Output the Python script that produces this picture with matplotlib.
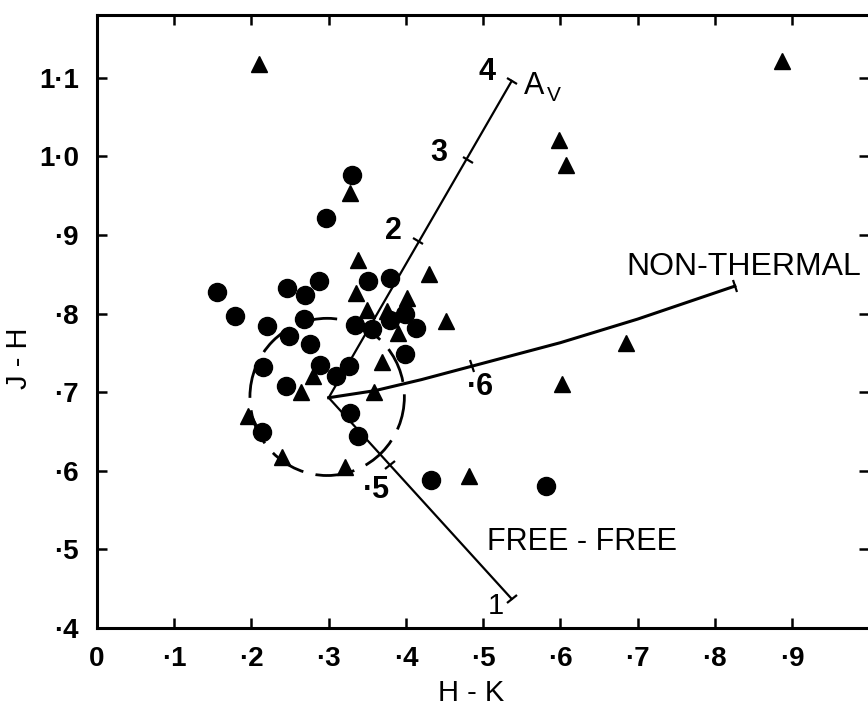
import numpy as np
import matplotlib
matplotlib.use("Agg")
import matplotlib.pyplot as plt
from matplotlib.markers import MarkerStyle
from matplotlib.transforms import Affine2D
from matplotlib.patches import Circle

plt.rcParams['font.family'] = ['Liberation Sans', 'DejaVu Sans']

# sources shown as filled circles (H-K, J-H)
circle_hk = [0.155, 0.179, 0.246, 0.269, 0.287, 0.220, 0.248, 0.268, 0.276, 0.215,
             0.245, 0.289, 0.310, 0.326, 0.334, 0.351, 0.379, 0.399, 0.413, 0.399,
             0.356, 0.379, 0.328, 0.338, 0.213, 0.433, 0.581, 0.330, 0.297]
circle_jh = [0.828, 0.797, 0.833, 0.824, 0.841, 0.784, 0.772, 0.793, 0.761, 0.732,
             0.708, 0.735, 0.720, 0.733, 0.785, 0.841, 0.845, 0.799, 0.782, 0.748,
             0.781, 0.792, 0.674, 0.644, 0.650, 0.588, 0.581, 0.977, 0.922]

# sources shown as filled triangles
tri_hk = [0.210, 0.887, 0.598, 0.607, 0.328, 0.338, 0.430, 0.335, 0.401, 0.349,
          0.452, 0.390, 0.369, 0.280, 0.264, 0.359, 0.196, 0.240, 0.321, 0.482,
          0.602, 0.685, 0.375]
tri_jh = [1.117, 1.121, 1.021, 0.989, 0.954, 0.868, 0.850, 0.826, 0.820, 0.805,
          0.791, 0.775, 0.739, 0.720, 0.700, 0.700, 0.670, 0.617, 0.605, 0.593,
          0.710, 0.763, 0.803]

# reddening vector, A_V = 0 .. 4
av_hk = [0.300, 0.537]
av_jh = [0.693, 1.096]
av_tick_hk = [0.416, 0.480]
av_tick_jh = [0.892, 0.995]

# non-thermal locus
nt_hk = [0.300, 0.360, 0.420, 0.485, 0.600, 0.700, 0.826]
nt_jh = [0.693, 0.702, 0.716, 0.733, 0.763, 0.793, 0.835]

# free-free locus
ff_hk = [0.300, 0.537]
ff_jh = [0.693, 0.437]
ff_tick = (0.379, 0.607)

x_ticks = [0, 0.1, 0.2, 0.3, 0.4, 0.5, 0.6, 0.7, 0.8, 0.9]
x_labels = ['0', '·1', '·2', '·3', '·4', '·5', '·6', '·7', '·8', '·9']
y_ticks = [0.4, 0.5, 0.6, 0.7, 0.8, 0.9, 1.0, 1.1]
y_labels = ['·4', '·5', '·6', '·7', '·8', '·9', '1·0', '1·1']

fig = plt.figure(figsize=(8.68, 7.06), dpi=100)
ax = fig.add_axes([0.1118, 0.1105, 0.8896, 0.8683])
ax.set_xlim(0, 1.0)
ax.set_ylim(0.4, 1.18)


def cap(x, y, x0, y0, size=9):
    # short bar across a line at (x, y); direction taken from (x0, y0)
    p = ax.transData.transform([(x0, y0), (x, y)])
    ang = np.degrees(np.arctan2(p[1, 1] - p[0, 1], p[1, 0] - p[0, 0]))
    m = MarkerStyle('|', transform=Affine2D().rotate_deg(ang))
    ax.plot(x, y, marker=m, ms=size, mew=1.6, color='black', zorder=3)


# loci
ax.plot(av_hk, av_jh, color='black', lw=1.6, zorder=2)
ax.plot(nt_hk, nt_jh, color='black', lw=2.2, zorder=2)
ax.plot(ff_hk, ff_jh, color='black', lw=1.6, zorder=2)

for x, y in zip(av_tick_hk, av_tick_jh):
    cap(x, y, av_hk[0], av_jh[0])
cap(av_hk[1], av_jh[1], av_hk[0], av_jh[0])
cap(nt_hk[3], nt_jh[3], nt_hk[2], nt_jh[2])
cap(nt_hk[-1], nt_jh[-1], nt_hk[-2], nt_jh[-2])
cap(ff_tick[0], ff_tick[1], ff_hk[0], ff_jh[0])
cap(ff_hk[1], ff_jh[1], ff_hk[0], ff_jh[0])

# dashed circle round the origin of the loci
ring = Circle((0.298, 0.694), 0.1, fill=False, ec='black', lw=2.0,
              linestyle=(3, (13, 4.5)), zorder=2)
ax.add_patch(ring)

ax.plot(circle_hk, circle_jh, 'o', color='black', ms=13, zorder=4)
ax.plot(tri_hk, tri_jh, '^', color='black', ms=12, zorder=4)

# labels along the loci
num = dict(fontsize=22, fontweight='bold', ha='center', va='center')
ax.text(0.505, 1.107, '4', **num)
ax.text(0.442, 1.005, '3', **num)
ax.text(0.384, 0.905, '2', **num)
ax.text(0.566, 1.090, 'A', fontsize=22, ha='center', va='center')
ax.text(0.591, 1.078, 'V', fontsize=15, ha='center', va='center')
ax.text(0.497, 0.706, '·6', **num)
ax.text(0.362, 0.576, '·5', **num)
ax.text(0.516, 0.428, '1', fontsize=21, ha='center', va='center')
ax.text(0.838, 0.859, 'NON-THERMAL', fontsize=23, ha='center', va='center')
ax.text(0.628, 0.510, 'FREE - FREE', fontsize=22, ha='center', va='center')

# axes frame and ticks
for side in ['left', 'bottom', 'top', 'right']:
    ax.spines[side].set_linewidth(2.2)
ax.set_xticks(x_ticks)
ax.set_xticklabels(x_labels, fontsize=20, fontweight='bold')
ax.set_yticks(y_ticks)
ax.set_yticklabels(y_labels, fontsize=20, fontweight='bold')
ax.tick_params(direction='in', length=7, width=1.8, top=True, right=True)
ax.tick_params(axis='x', pad=13)
ax.tick_params(axis='y', pad=13)

ax.set_xlabel('H - K', fontsize=21)
ax.xaxis.set_label_coords(0.484, -0.084)
ax.set_ylabel('J - H', fontsize=21)
ax.yaxis.set_label_coords(-0.083, 0.44)

fig.savefig('out.png', dpi=100)
